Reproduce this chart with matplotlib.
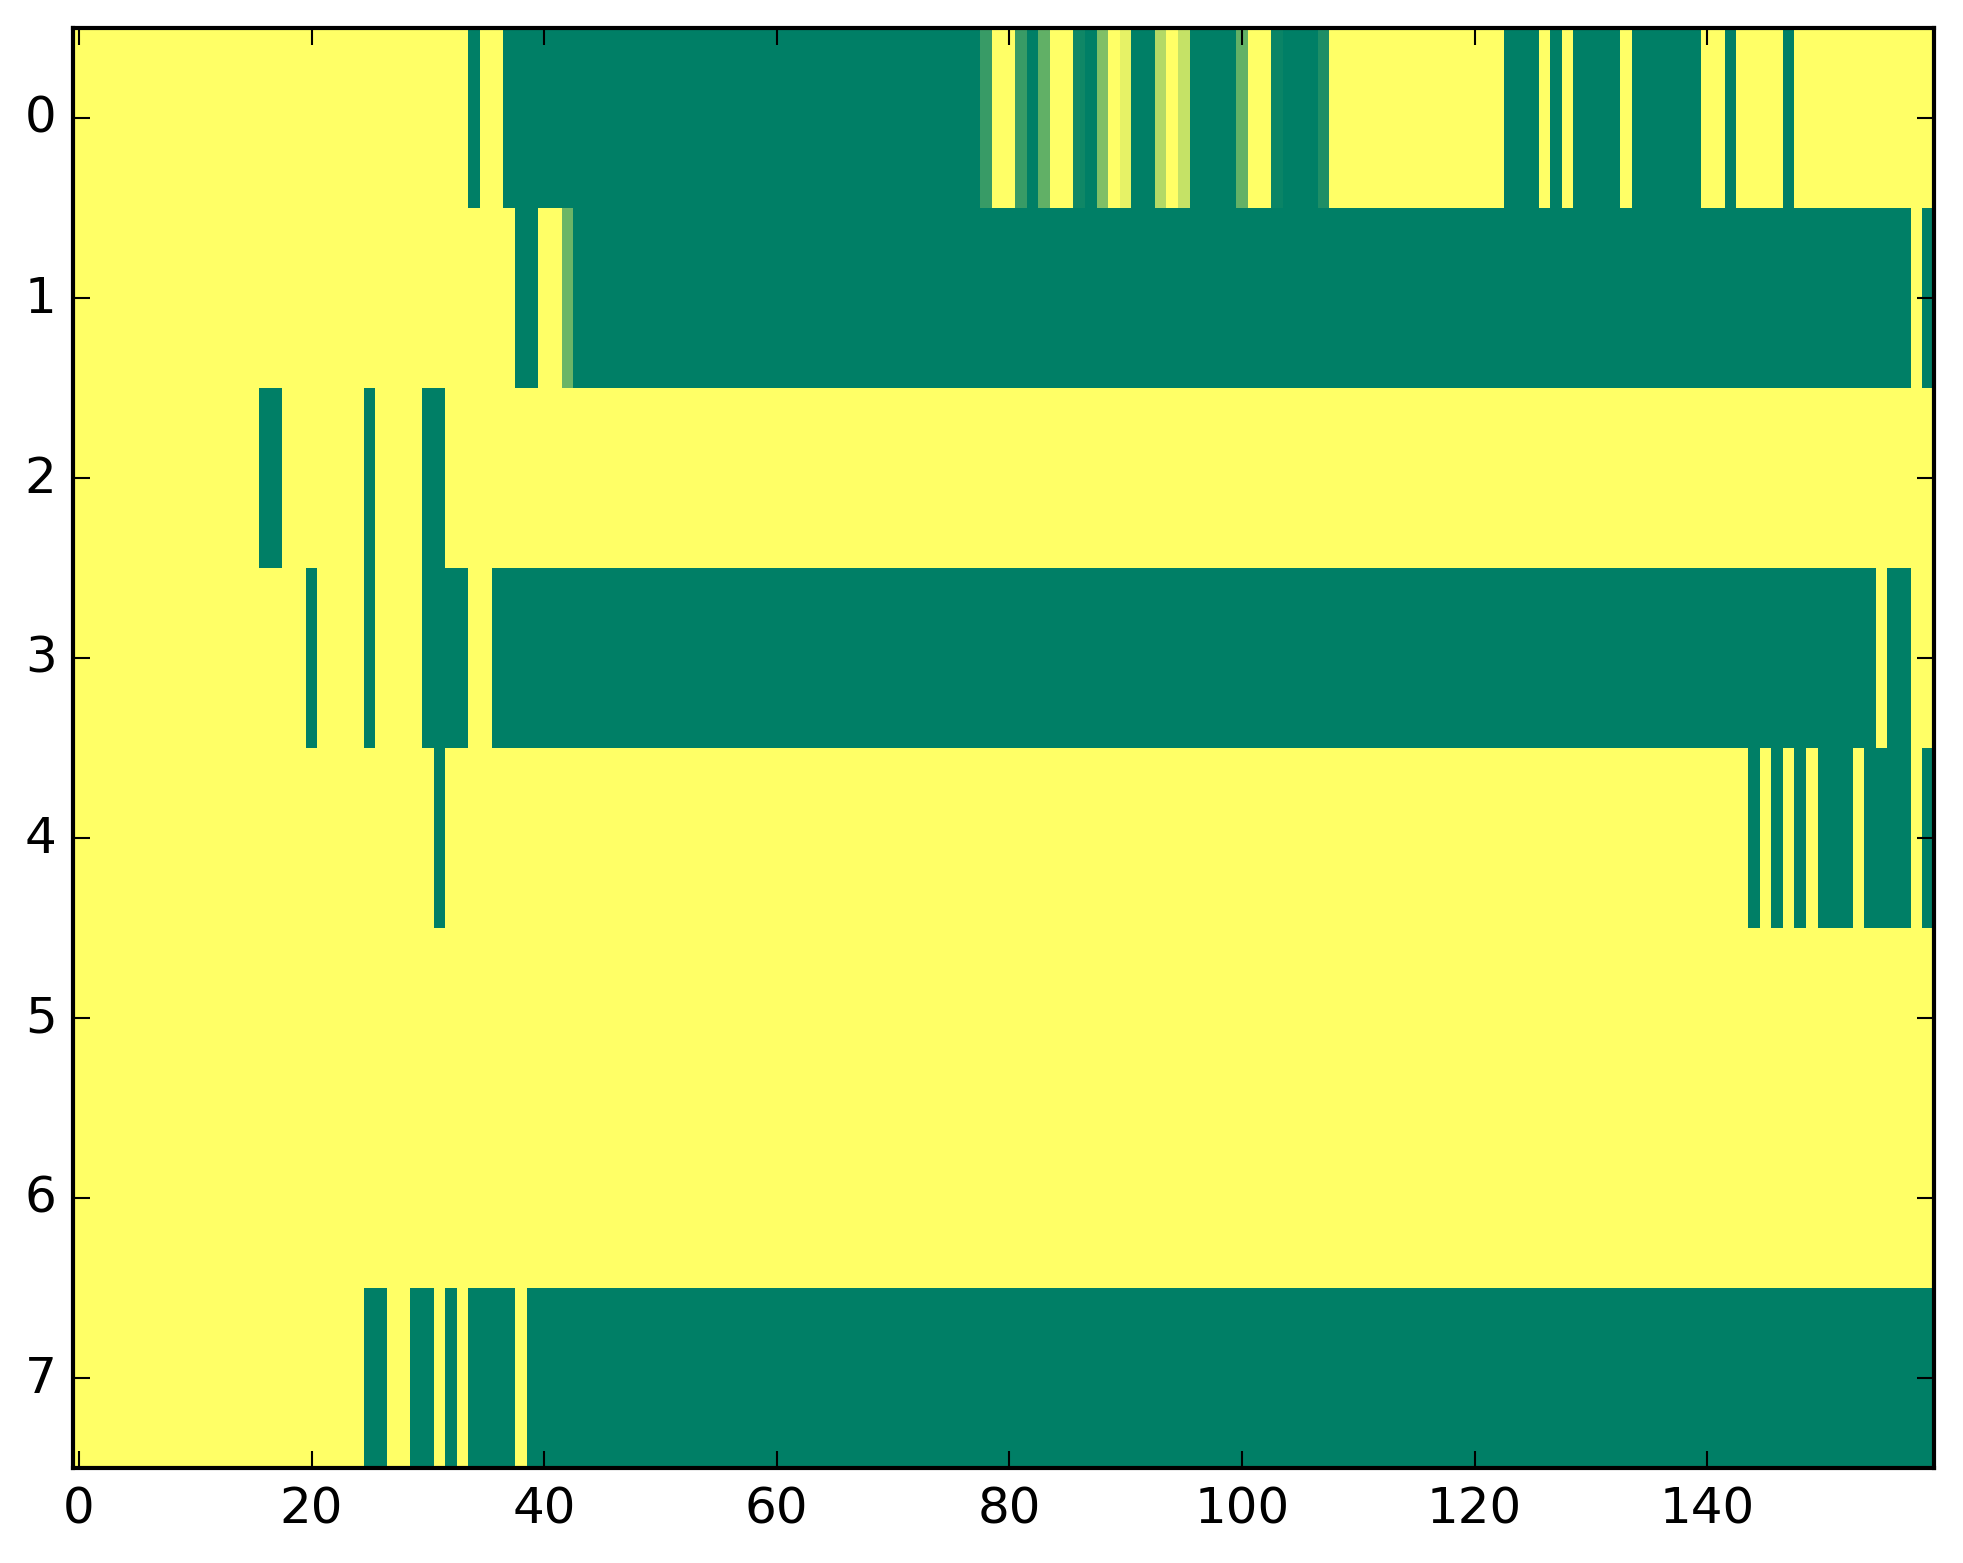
import numpy as np
import matplotlib
matplotlib.use("Agg")
import matplotlib.pyplot as plt

# each row is a list of (value, run length), 160 columns per row
row0 = [(1, 34), (0, 1), (1, 2), (0, 41), (0.22, 1), (1, 2), (0.22, 1), (0, 1),
        (0.38, 1), (1, 2), (0.06, 1), (0, 1), (0.5, 1), (1, 1), (0.9, 1), (0, 2),
        (0.7, 1), (1, 1), (0.77, 1), (0, 4), (0.39, 1), (1, 2), (0.04, 1), (0, 3),
        (0.12, 1), (1, 15), (0, 3), (1, 1), (0, 1), (1, 1), (0, 4), (1, 1), (0, 6),
        (1, 2), (0, 1), (1, 4), (0, 1), (1, 12)]
row1 = [(1, 38), (0, 2), (1, 2), (0.42, 1), (0, 115), (1, 1), (0, 1)]
row2 = [(1, 16), (0, 2), (1, 7), (0, 1), (1, 4), (0, 2), (1, 128)]
row3 = [(1, 20), (0, 1), (1, 4), (0, 1), (1, 4), (0, 4), (1, 2), (0, 119),
        (1, 1), (0, 2), (1, 2)]
row4 = [(1, 31), (0, 1), (1, 112), (0, 1), (1, 1), (0, 1), (1, 1), (0, 1),
        (1, 1), (0, 3), (1, 1), (0, 4), (1, 1), (0, 1)]
row5 = [(1, 160)]
row6 = [(1, 160)]
row7 = [(1, 25), (0, 2), (1, 2), (0, 2), (1, 1), (0, 1), (1, 1), (0, 4),
        (1, 1), (0, 121)]

rows = [row0, row1, row2, row3, row4, row5, row6, row7]


def expand(runs):
    """Turn (value, count) runs into one row of cells."""
    return np.concatenate([np.full(n, v, dtype=float) for v, n in runs])


data = np.vstack([expand(r) for r in rows])

plt.style.use("classic")
plt.rcParams["font.family"] = ["DejaVu Sans"]
plt.rcParams["font.size"] = 12

fig = plt.figure(figsize=(1963 / 300, 1564 / 300), dpi=300, facecolor="white")
ax = fig.add_axes([73.2 / 1963, 1 - 1468.7 / 1564,
                   (1933.9 - 73.2) / 1963, (1468.7 - 28.7) / 1564])

ax.imshow(data, cmap="summer", vmin=0, vmax=1, aspect="auto",
          interpolation="nearest")
ax.set_xticks(np.arange(0, 160, 20))
ax.set_yticks(np.arange(0, 8))
ax.set_xlim(-0.5, data.shape[1] - 0.5)
ax.set_ylim(data.shape[0] - 0.5, -0.5)

fig.savefig("out.png", dpi=300, facecolor="white")
